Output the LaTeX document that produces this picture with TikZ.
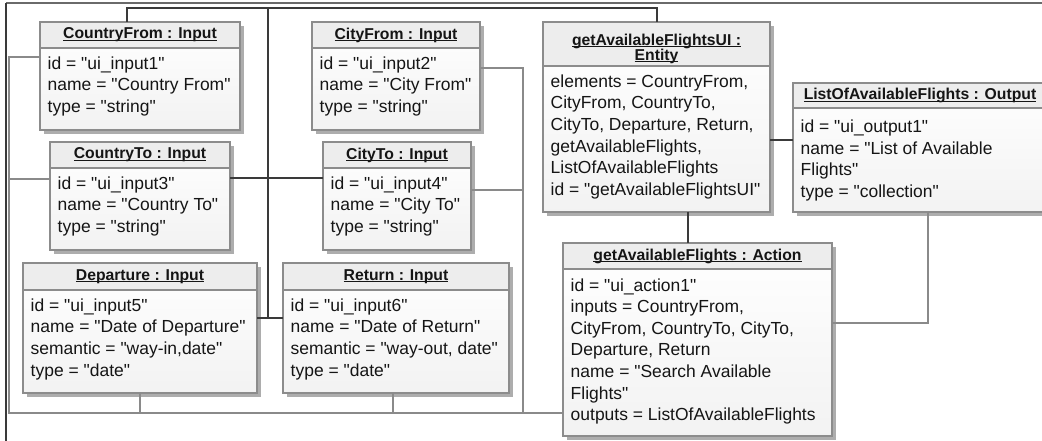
\documentclass[tikz,border=0pt]{standalone}
\usepackage{fontspec}
\setmainfont{Liberation Sans}
\usetikzlibrary{shadows}
\definecolor{darkline}{HTML}{3A3A3A}
\definecolor{grayline}{HTML}{8A8A8A}
\definecolor{topline}{HTML}{6A6A6A}
\definecolor{boxborder}{HTML}{8C8C8C}
\definecolor{headgray}{HTML}{EDEDED}
\definecolor{shadowgray}{HTML}{ADADAD}
\definecolor{txt}{HTML}{151515}
\newcommand{\dqt}{\textquotedbl}
\newsavebox{\ulxbox}
\newcommand{\ulx}[1]{\sbox{\ulxbox}{#1}\rlap{\rule[-1.4pt]{\wd\ulxbox}{0.6pt}}\usebox{\ulxbox}}
\tikzset{
 objbox/.style={rectangle, inner sep=0pt, outer sep=0pt, top color=white, bottom color=black!5,
   drop shadow={shadow xshift=3pt, shadow yshift=-3pt, fill=shadowgray, opacity=1}},
 headfill/.style={fill=headgray},
 boxline/.style={draw=boxborder, line width=0.8pt},
 titletext/.style={inner sep=0pt, align=center, text=txt, font=\fontsize{11.8}{12}\selectfont\bfseries},
 bodytext/.style={inner sep=0pt, anchor=north west, align=left, text=txt, font=\fontsize{13.1}{16.2}\selectfont},
 dk/.style={draw=darkline, line width=0.9pt},
 gy/.style={draw=grayline, line width=1.0pt},
 frameline/.style={draw=darkline, line width=1.5pt},
 framelinetop/.style={draw=topline, line width=1.0pt},
 uittl/.style={yshift=-3.5pt},
}
% #1 name, #2 x, #3 y, #4 w, #5 h, #6 header h (px), #7 title, #8 body, #9 body top offset (pt)
\newcommand{\umlobj}[9]{%
 \node[objbox, minimum width=#4*0.75pt, minimum height=#5*0.75pt, anchor=north west] (#1) at (#2,#3) {};
 \fill[headfill] (#1.north west) rectangle ([yshift=-#6*0.75pt]#1.north east);
 \draw[boxline] ([yshift=-#6*0.75pt]#1.north west) -- ([yshift=-#6*0.75pt]#1.north east);
 \draw[boxline] (#1.north west) rectangle (#1.south east);
 \node[titletext, #1ttl/.try] (#1t) at ([yshift=-#6*0.375pt]#1.north) {#7};
 \node[bodytext] (#1b) at ([xshift=5.6pt, yshift=-#6*0.75pt-#9]#1.north west) {\strut #8};
}
\begin{document}
\begin{tikzpicture}[x=0.75pt, y=-0.75pt]
\fill[white] (0,0) rectangle (1042,441);
\useasboundingbox (0,0) rectangle (1042,441);
\clip (0,0) rectangle (1042,441);

\umlobj{cf}{40}{22}{200}{108}{26}{\ulx{CountryFrom : Input}}{id = \dqt ui\_input1\dqt\\name = \dqt Country From\dqt\\type = \dqt string\dqt}{4.4pt}
\umlobj{cyf}{312}{22}{168}{108}{26}{\ulx{CityFrom : Input}}{id = \dqt ui\_input2\dqt\\name = \dqt City From\dqt\\type = \dqt string\dqt}{4.4pt}
\umlobj{ui}{543}{22}{227}{190}{44}{\ulx{getAvailableFlightsUI :}\\[-1pt]\ulx{Entity}}{elements = CountryFrom,\\CityFrom, CountryTo,\\CityTo, Departure, Return,\\getAvailableFlights,\\ListOfAvailableFlights\\id = \dqt getAvailableFlightsUI\dqt}{4.4pt}
\umlobj{lof}{793}{83}{254}{129}{25}{\ulx{ListOfAvailableFlights : Output}}{id = \dqt ui\_output1\dqt\\name = \dqt List of Available\\Flights\dqt\\type = \dqt collection\dqt}{7pt}
\umlobj{ct}{50}{142}{180}{108}{26}{\ulx{CountryTo : Input}}{id = \dqt ui\_input3\dqt\\name = \dqt Country To\dqt\\type = \dqt string\dqt}{4.4pt}
\umlobj{cyt}{323}{142}{148}{108}{26}{\ulx{CityTo : Input}}{id = \dqt ui\_input4\dqt\\name = \dqt City To\dqt\\type = \dqt string\dqt}{4.4pt}
\umlobj{dep}{23}{263}{234}{130}{27}{\ulx{Departure : Input}}{id = \dqt ui\_input5\dqt\\name = \dqt Date of Departure\dqt\\semantic = \dqt way-in,date\dqt\\type = \dqt date\dqt}{4.4pt}
\umlobj{ret}{283}{263}{226}{130}{27}{\ulx{Return : Input}}{id = \dqt ui\_input6\dqt\\name = \dqt Date of Return\dqt\\semantic = \dqt way-out, date\dqt\\type = \dqt date\dqt}{4.4pt}
\umlobj{act}{563}{243}{269}{193}{26}{\ulx{getAvailableFlights : Action}}{id = \dqt ui\_action1\dqt\\inputs = CountryFrom,\\CityFrom, CountryTo, CityTo,\\Departure, Return\\name = \dqt Search Available\\Flights\dqt\\outputs = ListOfAvailableFlights}{5pt}

% outer frame-like connector
\coordinate (fr1) at (1042,3);
\coordinate (frc) at (6,3);
\coordinate (fr2) at (6,441);
\draw[framelinetop] (fr1) -- (frc);
\draw[frameline] (frc) -- (fr2);

% dark connectors
\draw[dk] (cf.north -| 127,0) -- (127,8) -- (657,8) -- (ui.north -| 657,0);
\coordinate (j1) at (268,8);
\coordinate (j2) at (268,318);
\draw[dk] (j1) -- (j2);
\draw[dk] (dep.east |- 0,318) -- (ret.west |- 0,318);
\draw[dk] (ct.east |- 0,178) -- (cyt.west |- 0,178);
\draw[dk] (ui.south -| 688,0) -- (act.north -| 688,0);
\draw[dk] (ui.east |- 0,140) -- (lof.west |- 0,140);

% gray connectors
\draw[gy] (cf.west |- 0,57) -- (9,57) -- (9,413) -- (act.west |- 0,413);
\draw[gy] (ct.west |- 0,179) -- (9,179);
\draw[gy] (dep.south) -- (dep.south |- 0,413);
\draw[gy] (ret.south -| 393,0) -- (393,413);
\draw[gy] (cyf.east |- 0,68) -- (523,68) -- (523,413);
\draw[gy] (cyt.east |- 0,190) -- (523,190);
\draw[gy] (lof.south -| 928,0) -- (928,323) -- (act.east |- 0,323);
\end{tikzpicture}
\end{document}
